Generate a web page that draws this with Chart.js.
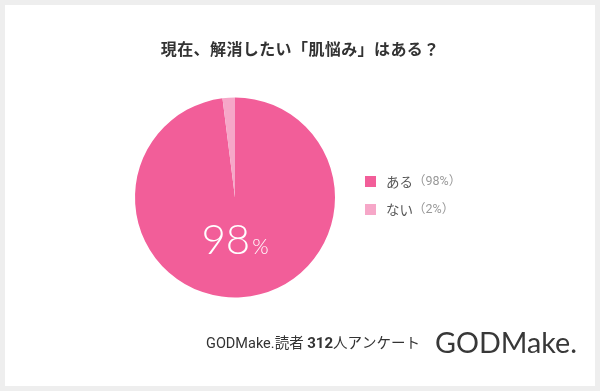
<!DOCTYPE html>
<html>
<head>
<meta charset="utf-8">
<script src="https://cdn.jsdelivr.net/npm/chart.js@4/dist/chart.umd.min.js"></script>
<style>
  html, body { margin: 0; padding: 0; background: #eeeeee; }
  #frame { position: absolute; left: 5px; top: 5px; width: 590px; height: 381px; background: #fff; }
</style>
</head>
<body>
<div id="frame"><canvas id="pieChart" width="590" height="381"></canvas></div>
<script>
// データ
const categories = ['ある', 'ない'];
const values = [98, 2];
const sliceColors = ['#F25E99', '#F6A7C8'];
const titleText = '現在、解消したい「肌悩み」はある？';
const sourceText = ['GODMake.読者 ', '312', '人アンケート'];
const logoText = 'GODMake.';

// タイトル・凡例・中央テキストを描くプラグイン
const extras = {
    id: 'extras',
    afterDraw(chart) {
        const ctx = chart.ctx;
        const arc = chart.getDatasetMeta(0).data[0];
        ctx.save();

        // タイトル（全角送りで描く）
        ctx.fillStyle = '#333';
        ctx.textBaseline = 'middle';
        ctx.textAlign = 'center';
        ctx.font = 'bold 16px "Noto Sans CJK JP", sans-serif';
        const cell = 16.4;
        const chars = Array.from(titleText);
        let tx = chart.width / 2 - (chars.length * cell) / 2 + cell / 2;
        chars.forEach(ch => {
            ctx.fillText(ch, tx, 44);
            tx += cell;
        });
        ctx.textAlign = 'left';

        // 中央の「98%」
        ctx.fillStyle = '#fff';
        ctx.textBaseline = 'alphabetic';
        const big = String(values[0]);
        ctx.font = '300 42px Lato, "Open Sans", sans-serif';
        const wBig = ctx.measureText(big).width;
        ctx.font = '300 21px Lato, "Open Sans", sans-serif';
        const wPct = ctx.measureText('%').width;
        const startX = arc.x - (wBig + 2 + wPct) / 2;
        const baseY = arc.y + 56;
        ctx.font = '300 42px Lato, "Open Sans", sans-serif';
        ctx.fillText(big, startX, baseY);
        ctx.font = '300 21px Lato, "Open Sans", sans-serif';
        ctx.fillText('%', startX + wBig + 2, baseY);

        // 凡例
        categories.forEach((c, i) => {
            const y = 176 + i * 28;
            ctx.fillStyle = sliceColors[i];
            ctx.fillRect(360, y - 5, 11, 11);
            ctx.textBaseline = 'middle';
            ctx.font = '13.5px "Noto Sans CJK JP", sans-serif';
            ctx.fillStyle = '#555';
            ctx.fillText(c, 381, y + 1);
            const w = ctx.measureText(c).width;
            ctx.fillStyle = '#999';
            ctx.font = '12.5px Roboto, "Noto Sans CJK JP", sans-serif';
            ctx.fillText('（' + values[i] + '%）', 381 + w, y + 1);
        });

        // 出典
        ctx.textBaseline = 'alphabetic';
        let x = 201;
        const y2 = 343;
        ctx.fillStyle = '#333';
        ctx.font = '14.5px Roboto, "Noto Sans CJK JP", sans-serif';
        ctx.fillText(sourceText[0], x, y2);
        x += ctx.measureText(sourceText[0]).width;
        ctx.font = 'bold 15px Roboto, "Noto Sans CJK JP", sans-serif';
        ctx.fillText(sourceText[1], x, y2);
        x += ctx.measureText(sourceText[1]).width;
        ctx.font = '14.5px Roboto, "Noto Sans CJK JP", sans-serif';
        ctx.fillText(sourceText[2], x, y2);

        // ロゴ
        ctx.fillStyle = '#383838';
        ctx.font = '29px Lato, "Open Sans", sans-serif';
        const lw = ctx.measureText(logoText).width;
        ctx.save();
        ctx.translate(430, 348);
        ctx.scale(142 / lw, 1);
        ctx.fillText(logoText, 0, 0);
        ctx.restore();
        ctx.restore();
    }
};

new Chart(document.getElementById('pieChart').getContext('2d'), {
    type: 'pie',
    data: {
        labels: categories,
        datasets: [{
            data: values,
            backgroundColor: sliceColors,
            borderWidth: 0
        }]
    },
    options: {
        responsive: false,
        animation: false,
        layout: {
            padding: { top: 92.5, left: 130, right: 260, bottom: 88.5 }
        },
        plugins: {
            legend: { display: false },
            tooltip: { enabled: false },
            title: { display: false }
        }
    },
    plugins: [extras]
});
</script>
</body>
</html>
